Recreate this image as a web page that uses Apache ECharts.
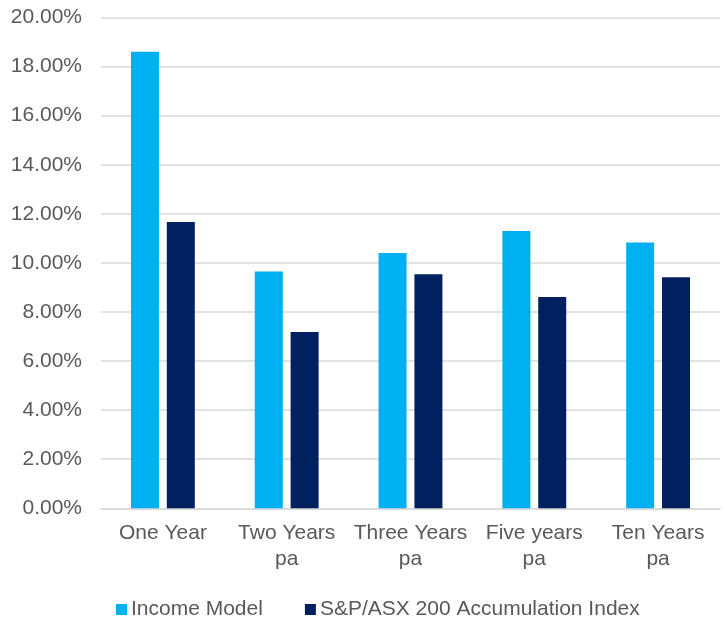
<!DOCTYPE html>
<html>
<head>
<meta charset="utf-8">
<script src="https://cdn.jsdelivr.net/npm/echarts@6/dist/echarts.min.js"></script>
<style>html,body{margin:0;padding:0;background:#fff;}#c{width:725px;height:619px;}</style>
</head>
<body>
<div id="c"></div>
<script>
const categories = ["One Year", "Two Years\npa", "Three Years\npa", "Five years\npa", "Ten Years\npa"];
const incomeModel = [18.6, 9.65, 10.4, 11.3, 10.83];
const asx200 = [11.67, 7.18, 9.54, 8.61, 9.42];
const seriesNames = ["Income Model", "S&P/ASX 200 Accumulation Index"];

const chart = echarts.init(document.getElementById('c'));
const font = 'Liberation Sans, Arial, sans-serif';
chart.setOption({
  animation: false,
  textStyle: { fontFamily: font },
  grid: { left: 101, right: 5, top: 17.5, bottom: 110.7, containLabel: false },
  legend: {
    data: seriesNames,
    left: 111, top: 594,
    itemWidth: 11, itemHeight: 11, itemGap: 42,
    icon: 'rect',
    textStyle: { fontSize: 21, color: '#595959', fontFamily: font, padding: [0,0,0,-1] }
  },
  xAxis: {
    type: 'category',
    data: categories,
    axisLine: { show: true, lineStyle: { color: '#d9d9d9', width: 1.5 } },
    axisTick: { show: false },
    axisLabel: { fontSize: 21, color: '#595959', lineHeight: 26, margin: 12, interval: 0, fontFamily: font }
  },
  yAxis: {
    type: 'value',
    min: 0, max: 20, interval: 2,
    axisLine: { show: false },
    axisTick: { show: false },
    splitLine: { lineStyle: { color: '#d9d9d9', width: 1.5 } },
    axisLabel: { fontSize: 21, color: '#595959', margin: 19, fontFamily: font,
      formatter: v => v.toFixed(2) + '%' }
  },
  series: [
    { name: seriesNames[0], type: 'bar', data: incomeModel, barWidth: 28, barGap: '28%',
      itemStyle: { color: '#00B0F0' } },
    { name: seriesNames[1], type: 'bar', data: asx200, barWidth: 28, barGap: '28%',
      itemStyle: { color: '#002060' } }
  ]
});
</script>
</body>
</html>
